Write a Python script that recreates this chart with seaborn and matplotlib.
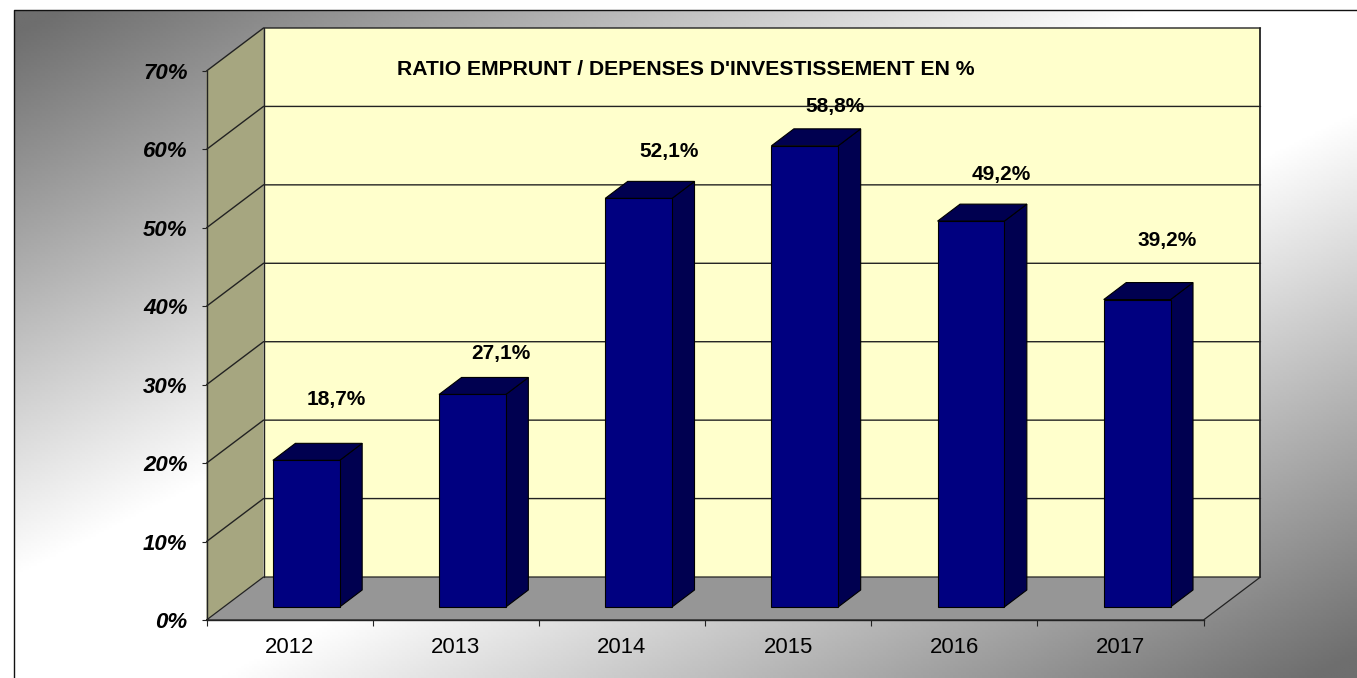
import numpy as np
import matplotlib
matplotlib.use("Agg")
import matplotlib.pyplot as plt
from matplotlib.patches import Polygon
import seaborn as sns
import pandas as pd

years = ["2012", "2013", "2014", "2015", "2016", "2017"]
ratio = [18.7, 27.1, 52.1, 58.8, 49.2, 39.2]
value_labels = ["18,7%", "27,1%", "52,1%", "58,8%", "49,2%", "39,2%"]
y_ticks = [0, 10, 20, 30, 40, 50, 60, 70]
title = "RATIO EMPRUNT / DEPENSES D'INVESTISSEMENT EN %"

# hand-placed label offsets from the bar-top centre, in pixels
label_dx = [30, 28, 30, 30, 30.5, 30]
label_dy = [61, 41, 47, 39, 47, 59]

W, H = 1357, 678
sns.set_theme(style="white")
plt.rcParams["font.family"] = ["Liberation Sans", "DejaVu Sans"]
fig = plt.figure(figsize=(W / 100, H / 100), dpi=100, facecolor="white")

# background gradient panel in pixel coordinates
bg = fig.add_axes([0, 0, 1, 1], zorder=0)
bg.set_xlim(0, W); bg.set_ylim(H, 0); bg.axis("off")
xx, yy = np.meshgrid(np.linspace(0, 1, 500), np.linspace(0, 1, 300))
s = 1 - np.abs(1 - (xx + yy))
dark = 0.43
grad = dark + np.clip((s - 0.03) / 0.82, 0, 1) * (1 - dark)
bg.imshow(grad, cmap="gray", vmin=0, vmax=1, extent=(14, W, H, 10), aspect="auto", interpolation="bilinear")
bg.set_xlim(0, W); bg.set_ylim(H, 0)
bg.plot([14, 14, W], [H, 10, 10], color="#111111", lw=1.0)

# front plane of the 3D box
L, R, T, B = 206.5, 1203.5, 71, 620
ax = fig.add_axes([L / W, (H - B) / H, (R - L) / W, (B - T) / H], zorder=1)
ax.patch.set_alpha(0)
df = pd.DataFrame({"year": years, "ratio": ratio})
sns.barplot(data=df, x="year", y="ratio", color="#000080", saturation=1, width=0.402,
            edgecolor="black", linewidth=0.8, ax=ax, zorder=5)
ax.set_xlim(-0.5, 5.5)
ax.set_ylim(0, 70)
ax.set_xlabel(""); ax.set_ylabel("")

px_x = 6 / (R - L)
px_y = 70 / (B - T)
DX, DY = 57 * px_x, 43 * px_y   # box depth
edge = "#222222"

def poly(pts, fc, z, ec="none", lw=0.0):
    p = Polygon(pts, closed=True, facecolor=fc, edgecolor=ec, linewidth=lw, zorder=z, clip_on=False)
    ax.add_patch(p)

# walls and floor
poly([(-0.5, 0), (-0.5 + DX, DY), (-0.5 + DX, 70 + DY), (-0.5, 70)], "#A6A680", 1)
poly([(-0.5 + DX, DY), (5.5 + DX, DY), (5.5 + DX, 70 + DY), (-0.5 + DX, 70 + DY)], "#FFFFCC", 1)
poly([(-0.5, 0), (5.5, 0), (5.5 + DX, DY), (-0.5 + DX, DY)], "#969696", 1)

# gridlines round the side and back walls
for v in y_ticks[1:]:
    ax.plot([-0.5, -0.5 + DX, 5.5 + DX], [v, v + DY, v + DY], color=edge, lw=1.0, zorder=2,
            clip_on=False, solid_joinstyle="miter")
ax.plot([-0.5, -0.5 + DX, 5.5 + DX, 5.5, -0.5], [0, DY, DY, 0, 0], color=edge, lw=0.9, zorder=2, clip_on=False)
ax.plot([-0.5 + DX, -0.5 + DX], [DY, 70 + DY], color=edge, lw=1.0, zorder=2, clip_on=False)
ax.plot([5.5 + DX, 5.5 + DX], [DY, 70 + DY], color=edge, lw=1.3, zorder=2, clip_on=False)

# bars pushed to the middle of the box depth, with side and top faces
fx, fy = 16.7 * px_x, 13 * px_y
bx, by = 22.5 * px_x, 17 * px_y
for bar, label, ldx, ldy in zip(ax.patches[:len(years)], value_labels, label_dx, label_dy):
    bar.set_x(bar.get_x() + fx)
    bar.set_y(bar.get_y() + fy)
    bar.set_clip_on(False)
    x0, w, h = bar.get_x(), bar.get_width(), bar.get_height()
    x1 = x0 + w
    top = fy + h
    poly([(x1, fy), (x1 + bx, fy + by), (x1 + bx, top + by), (x1, top)], "#000050", 4, "black", 0.8)
    poly([(x0, top), (x1, top), (x1 + bx, top + by), (x0 + bx, top + by)], "#000050", 4, "black", 0.8)
    ax.annotate(label, xy=(x0 + w / 2, top), xytext=(ldx, ldy), textcoords="offset pixels",
                ha="center", va="center", fontsize=15, fontweight="bold", color="black",
                zorder=8, annotation_clip=False)

# axes: left and bottom edges with ticks
for s_name in ("top", "right"):
    ax.spines[s_name].set_visible(False)
for s_name in ("left", "bottom"):
    ax.spines[s_name].set_color(edge)
    ax.spines[s_name].set_linewidth(1.0)
    ax.spines[s_name].set_zorder(3)
ax.set_yticks(y_ticks)
ax.set_yticklabels([f"{v}%" for v in y_ticks], fontsize=16, fontweight="bold", fontstyle="italic", color="black")
ax.tick_params(axis="y", left=True, length=3.6, width=0.8, color=edge, pad=10)
ax.set_xticks(np.arange(-0.5, 6.0, 1.0))
ax.set_xticklabels([])
ax.set_xticks(np.arange(6), minor=True)
ax.set_xticklabels(years, minor=True, fontsize=15.9, color="black")
ax.tick_params(axis="x", which="major", bottom=True, length=4.5, width=0.8, color=edge)
ax.tick_params(axis="x", which="minor", bottom=False, length=0, pad=12.5)

ax.text(-0.5 + 190.5 * px_x, 70 + 1.5 * px_y, title, ha="left", va="center", fontsize=15.2, fontweight="bold",
        color="black", zorder=8, clip_on=False)

fig.savefig("out.png", dpi=100)
